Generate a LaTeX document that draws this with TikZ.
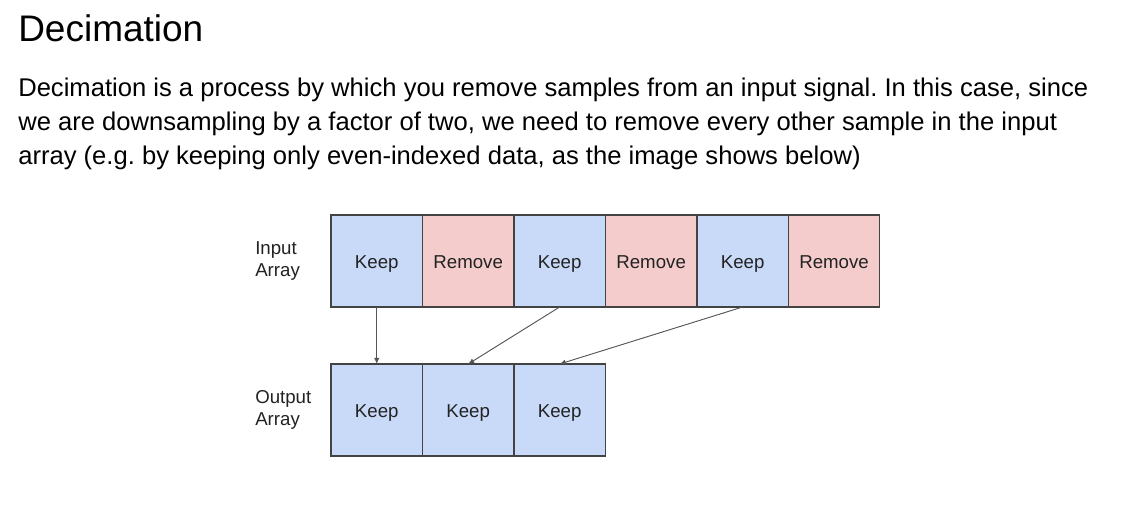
\documentclass[tikz,border=0pt]{standalone}
\usepackage{fontspec}
\setmainfont{Liberation Sans}
\usetikzlibrary{positioning, arrows.meta}
\definecolor{keepblue}{HTML}{C9DAF8}
\definecolor{removered}{HTML}{F4CCCC}
\definecolor{cellborder}{HTML}{434343}
\definecolor{arrowgray}{HTML}{555555}
\definecolor{celltext}{HTML}{222222}
\frenchspacing

\begin{document}
\begin{tikzpicture}[
            x=0.75pt, y=-0.75pt,
            node distance=0pt,
            title/.style={anchor=base west, inner sep=0pt, font=\fontsize{27.75}{33}\selectfont},
            para/.style={anchor=base west, inner sep=0pt, font=\fontsize{19.2}{25.7}\selectfont},
            label/.style={anchor=west, inner sep=0pt, align=left, text=celltext, font=\fontsize{14}{16.5}\selectfont},
            cell/.style={draw=cellborder, line width=1pt, outer sep=0pt, minimum width=68.6pt, minimum height=69pt, text height=14pt, text depth=3pt, text=celltext, font=\fontsize{14}{16}\selectfont},
            keepcell/.style={cell, fill=keepblue},
            removecell/.style={cell, fill=removered},
            arrow/.style={-{Latex[length=4.5pt,width=4pt]}, line width=0.7pt, arrowgray}
        ]
            \useasboundingbox (0,0) rectangle (1125,505);

            \node[title] (head) at (18,42) {Decimation};
            \node[para] (line1) at (18,97) {Decimation is a process by which you remove samples from an input signal. In this case, since};
            \node[para] (line2) at (18,131) {we are downsampling by a factor of two, we need to remove every other sample in the input};
            \node[para] (line3) at (18,165) {array (e.g. by keeping only even-indexed data, as the image shows below)};

            \node[keepcell, anchor=north west] (in1) at (331,215) {Keep};
            \node[removecell, right=of in1] (in2) {Remove};
            \node[keepcell, right=of in2] (in3) {Keep};
            \node[removecell, right=of in3] (in4) {Remove};
            \node[keepcell, right=of in4] (in5) {Keep};
            \node[removecell, right=of in5] (in6) {Remove};

            \node[keepcell, below=42.75pt of in1] (out1) {Keep};
            \node[keepcell, right=of out1] (out2) {Keep};
            \node[keepcell, right=of out2] (out3) {Keep};

            \node[label] (inlabel) at (255,261) {Input\\Array};
            \node[label] (outlabel) at (255,410) {Output\\Array};

            \draw[arrow] (in1) -- (out1);
            \draw[arrow] (in3.south) -- (out2.north);
            \draw[arrow] (in5.south) -- (out3.north);
        \end{tikzpicture}
\end{document}
